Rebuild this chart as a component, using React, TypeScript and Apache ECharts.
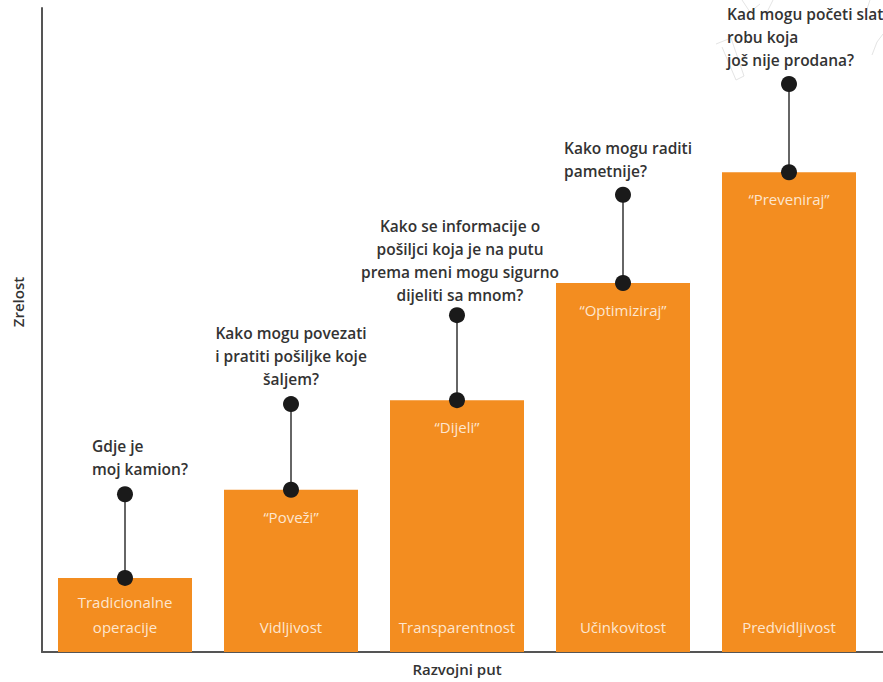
import React, { useEffect, useRef } from 'react';
import * as echarts from 'echarts';

const categories = ['Tradicionalne\noperacije', 'Vidljivost', 'Transparentnost', 'Učinkovitost', 'Predvidljivost'];
const maturity = [11.5, 25.2, 39.1, 57.3, 74.5];
const questionLevel = [24.5, 38.5, 52.3, 71.0, 88.2];
const actions = ['', '“Poveži”', '“Dijeli”', '“Optimiziraj”', '“Preveniraj”'];
const questions = [
  'Gdje je\nmoj kamion?',
  'Kako mogu povezati\ni pratiti pošiljke koje\nšaljem?',
  'Kako se informacije o\npošiljci koja je na putu\nprema meni mogu sigurno\ndijeliti sa mnom?',
  'Kako mogu raditi\npametnije?',
  'Kad mogu početi slati\nrobu koja\njoš nije prodana?',
];
const xAxisName = 'Razvojni put';
const yAxisName = 'Zrelost';

// layout of question text relative to the upper dot (style only)
const qLayout = [
  { dx: -33, align: 'left', gap: 14 },
  { dx: 0, align: 'center', gap: 14 },
  { dx: 3, align: 'center', gap: 9 },
  { dx: -59, align: 'left', gap: 12 },
  { dx: -62, align: 'left', gap: 12 },
];

const FONT = '"Open Sans", "Noto Sans", sans-serif';
const ORANGE = '#F38D20';

export default function App() {
  const ref = useRef<HTMLDivElement>(null);
  useEffect(() => {
    if (!ref.current) return;
    const chart = echarts.init(ref.current, null, { renderer: 'svg', width: 883, height: 682 });
    const customData = categories.map((_, i) => [i, maturity[i], questionLevel[i]]);
    chart.setOption({
      animation: false,
      grid: { left: 42, right: 11, top: 8, bottom: 30 },
      xAxis: {
        type: 'category',
        data: categories,
        name: xAxisName,
        nameLocation: 'middle',
        nameGap: 9,
        nameTextStyle: { color: '#333', fontSize: 15, fontWeight: 600, fontFamily: FONT },
        axisLine: { lineStyle: { color: '#555', width: 2 } },
        axisTick: { show: false },
        axisLabel: { show: false },
      },
      yAxis: {
        type: 'value',
        min: 0,
        max: 100,
        axisLine: { show: true, lineStyle: { color: '#555', width: 2 } },
        axisTick: { show: false },
        axisLabel: { show: false },
        splitLine: { show: false },
      },
      graphic: [
        {
          type: 'text',
          x: 18,
          y: 302,
          rotation: Math.PI / 2,
          style: {
            text: yAxisName,
            fill: '#333',
            font: `600 15px ${FONT}`,
            align: 'center',
            verticalAlign: 'middle',
          },
        },
        { type: 'line', shape: { x1: 871, y1: 652, x2: 883, y2: 652 }, style: { stroke: '#555', lineWidth: 2 } },
        { type: 'polyline', shape: { points: [[716, 44], [731, 38], [744, 76], [736, 80], [722, 47]] }, style: { stroke: '#e4e4e4', lineWidth: 1, fill: 'none' } },
        { type: 'polyline', shape: { points: [[742, 0], [750, 12], [760, 4]] }, style: { stroke: '#e4e4e4', lineWidth: 1, fill: 'none' } },
        { type: 'polyline', shape: { points: [[773, 0], [766, 14]] }, style: { stroke: '#e4e4e4', lineWidth: 1, fill: 'none' } },
        { type: 'polyline', shape: { points: [[872, 55], [877, 42], [883, 34]] }, style: { stroke: '#e4e4e4', lineWidth: 1, fill: 'none' } },
        { type: 'polyline', shape: { points: [[870, 0], [866, 12]] }, style: { stroke: '#e4e4e4', lineWidth: 1, fill: 'none' } },
      ],
      series: [
        {
          type: 'bar',
          data: maturity,
          barWidth: 134,
          itemStyle: { color: ORANGE },
          label: {
            show: true,
            position: 'insideBottom',
            distance: 13,
            formatter: (p: any) => p.name,
            color: '#FDE6CF',
            fontSize: 15,
            fontFamily: FONT,
            lineHeight: 25,
          },
          z: 2,
        },
        {
          type: 'custom',
          data: customData,
          z: 5,
          renderItem: (params: any, api: any) => {
            const i = api.value(0);
            const base = api.coord([i, api.value(1)]);
            const top = api.coord([i, api.value(2)]);
            const lay = qLayout[i];
            const children: any[] = [
              {
                type: 'line',
                shape: { x1: base[0], y1: base[1], x2: top[0], y2: top[1] },
                style: { stroke: '#666', lineWidth: 2 },
              },
              { type: 'circle', shape: { cx: base[0], cy: base[1], r: 8 }, style: { fill: '#1a1a1a' } },
              { type: 'circle', shape: { cx: top[0], cy: top[1], r: 8 }, style: { fill: '#1a1a1a' } },
              {
                type: 'text',
                x: top[0] + lay.dx,
                y: top[1] - lay.gap,
                style: {
                  text: questions[i],
                  fill: '#333',
                  font: `600 15.5px ${FONT}`,
                  align: lay.align,
                  verticalAlign: 'bottom',
                  lineHeight: 23,
                },
              },
            ];
            if (actions[i]) {
              children.push({
                type: 'text',
                x: base[0],
                y: base[1] + 27,
                style: {
                  text: actions[i],
                  fill: '#FDE6CF',
                  font: `15px ${FONT}`,
                  align: 'center',
                  verticalAlign: 'middle',
                },
              });
            }
            return { type: 'group', children };
          },
        },
      ],
    });
    return () => chart.dispose();
  }, []);
  return (
    <div
      ref={ref}
      style={{ position: 'fixed', left: 0, top: 0, width: 883, height: 682, background: '#fff' }}
    />
  );
}
